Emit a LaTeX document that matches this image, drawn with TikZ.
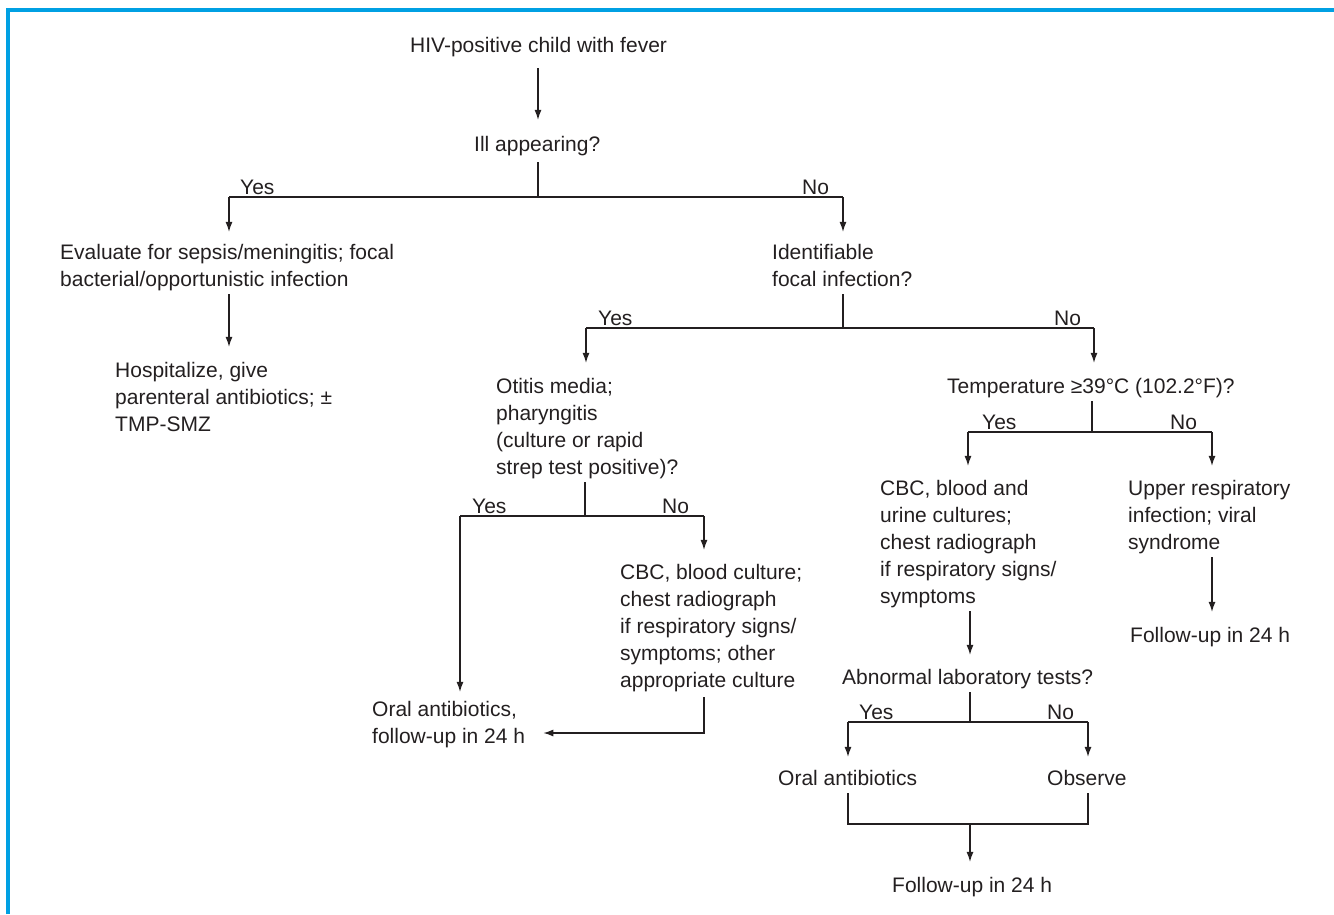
\documentclass[tikz,border=0pt]{standalone}
\usepackage{fontspec}
\setmainfont{Liberation Sans}
\usetikzlibrary{arrows.meta}
\definecolor{frameblue}{RGB}{0,160,227}
\definecolor{ink}{RGB}{35,31,32}
% left-aligned text block whose baseline is that of its first line
\newcommand{\flowtext}[1]{\begin{tabular}[t]{@{}l@{}}#1\end{tabular}}
\begin{document}
\begin{tikzpicture}[x=1pt,y=-1pt,
  txt/.style={inner sep=0pt, anchor=base west, text=ink,
              font=\fontsize{21}{27}\selectfont},
  link/.style={draw=ink, line width=1.3pt},
  arr/.style={link, shorten >=10pt, -{Latex[length=10pt,width=7pt]}},
]
\useasboundingbox (0,0) rectangle (1334,914);
\draw[frameblue, line width=3.2pt] (8,914) -- (8,10) -- (1334,10);

% ---- text blocks ----
\node[txt] (hiv)   at (410,52)  {\flowtext{HIV-positive child with fever}};
\node[txt] (ill)   at (474,151) {\flowtext{Ill appearing?}};
\node[txt] (ev)    at (60,259)  {\flowtext{Evaluate for sepsis/meningitis; focal\\bacterial/opportunistic infection}};
\node[txt] (hosp)  at (115,377) {\flowtext{Hospitalize, give\\parenteral antibiotics; ±\\TMP-SMZ}};
\node[txt] (ident) at (772,259) {\flowtext{Identifiable\\focal infection?}};
\node[txt] (otitis) at (496,393) {\flowtext{Otitis media;\\pharyngitis\\(culture or rapid\\strep test positive)?}};
\node[txt] (temp)  at (947,393) {\flowtext{Temperature ≥39°C (102.2°F)?}};
\node[txt] (cbcA)  at (620,579) {\flowtext{CBC, blood culture;\\chest radiograph\\if respiratory signs/\\symptoms; other\\appropriate culture}};
\node[txt] (oralA) at (372,716) {\flowtext{Oral antibiotics,\\follow-up in 24 h}};
\node[txt] (cbcB)  at (880,495) {\flowtext{CBC, blood and\\urine cultures;\\chest radiograph\\if respiratory signs/\\symptoms}};
\node[txt] (uri)   at (1128,495) {\flowtext{Upper respiratory\\infection; viral\\syndrome}};
\node[txt] (fuA)   at (1130,642) {\flowtext{Follow-up in 24 h}};
\node[txt] (abn)   at (842,684) {\flowtext{Abnormal laboratory tests?}};
\node[txt] (oralB) at (778,785) {\flowtext{Oral antibiotics}};
\node[txt] (obs)   at (1047,785) {\flowtext{Observe}};
\node[txt] (fuB)   at (892,892) {\flowtext{Follow-up in 24 h}};

% ---- branch labels ----
\node[txt] (y1) at (240,194)  {Yes};
\node[txt] (n1) at (802,194)  {No};
\node[txt] (y2) at (598,325)  {Yes};
\node[txt] (n2) at (1054,325) {No};
\node[txt] (y3) at (472,513)  {Yes};
\node[txt] (n3) at (662,513)  {No};
\node[txt] (y4) at (982,429)  {Yes};
\node[txt] (n4) at (1170,429) {No};
\node[txt] (y5) at (859,719)  {Yes};
\node[txt] (n5) at (1047,719) {No};

% ---- junction points ----
\coordinate (j1) at (538,197);
\coordinate (j1l) at (229,197);
\coordinate (j1r) at (843,197);
\coordinate (j2) at (843,328);
\coordinate (j2l) at (586,328);
\coordinate (j2r) at (1094,328);
\coordinate (j3) at (585,516);
\coordinate (j3l) at (460,516);
\coordinate (j3r) at (704,516);
\coordinate (c6) at (704,733);
\coordinate (j4) at (1092,432);
\coordinate (j4l) at (968,432);
\coordinate (j4r) at (1212,432);
\coordinate (j5) at (970,722);
\coordinate (j5l) at (848,722);
\coordinate (j5r) at (1088,722);
\coordinate (j6) at (970,824);

% ---- connectors ----
\draw[arr, shorten <=8pt, shorten >=12pt] (hiv.south -| j1) -- (ill.north -| j1);

\draw[link, shorten <=3pt] (ill.south -| j1) -- (j1);
\draw[link] (j1l) -- (j1r);
\draw[arr, shorten >=8pt] (j1l) -- (ev.north -| j1l);
\draw[arr, shorten >=8pt] (j1r) -- (ident.north -| j1r);

\draw[arr, shorten >=11pt] (ev.south -| j1l) -- (hosp.north -| j1l);

\draw[link] (ident.south -| j2) -- (j2);
\draw[link] (j2l) -- (j2r);
\draw[arr, shorten >=11pt] (j2l) -- (otitis.north -| j2l);
\draw[arr, shorten >=11pt] (j2r) -- (temp.north -| j2r);

\draw[link] (otitis.south -| j3) -- (j3);
\draw[link] (j3l) -- (j3r);
\draw[arr, shorten >=5pt] (j3l) -- (oralA.north -| j3l);
\draw[arr] (j3r) -- (cbcA.north -| j3r);
\draw[arr, shorten <=2pt, shorten >=18pt] (cbcA.south -| c6) -- (c6) -- (oralA.east |- c6);

\draw[link] (temp.south -| j4) -- (j4);
\draw[link] (j4l) -- (j4r);
\draw[arr] (j4l) -- (cbcB.north -| j4l);
\draw[arr] (j4r) -- (uri.north -| j4r);

\draw[arr] (cbcB.south -| j5) -- (abn.north -| j5);
\draw[arr, shorten >=11pt] (uri.south -| j4r) -- (fuA.north -| j4r);

\draw[link] (abn.south -| j5) -- (j5);
\draw[link] (j5l) -- (j5r);
\draw[arr, shorten >=9pt] (j5l) -- (oralB.north -| j5l);
\draw[arr, shorten >=9pt] (j5r) -- (obs.north -| j5r);

\draw[link] (oralB.south -| j5l) |- (j6 -| j5r) -- (obs.south -| j5r);
\draw[arr, shorten >=11pt] (j6) -- (fuB.north -| j6);
\end{tikzpicture}
\end{document}
